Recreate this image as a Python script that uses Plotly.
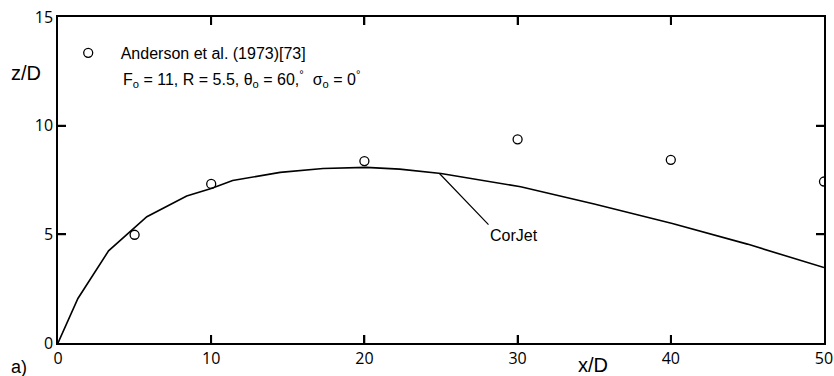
import plotly.graph_objects as go

# Experimental data: Anderson et al. (1973)
exp_x = [5, 10, 20, 30, 40, 50]
exp_z = [4.98, 7.32, 8.37, 9.37, 8.43, 7.43]

# CorJet prediction
cj_x = [0, 1.3, 3.3, 5.8, 8.4, 10.0, 11.4, 14.5, 17.3, 20.1, 22.3, 25.0, 30.2, 35.0, 40.1, 45.0, 50.0]
cj_z = [0, 2.05, 4.24, 5.81, 6.76, 7.11, 7.48, 7.85, 8.03, 8.08, 8.0, 7.8, 7.19, 6.4, 5.5, 4.55, 3.47]

x_ticks = [0, 10, 20, 30, 40, 50]
y_ticks = [0, 5, 10, 15]
x_range = [0, 50]
y_range = [0, 15]

FONT = "Liberation Sans"
TXT = dict(family=FONT, size=16, color="black")

W, H = 834, 376
M = dict(l=58, r=10, t=17, b=33)
TICK_PX = 8
x_tick_len = TICK_PX * (x_range[1] - x_range[0]) / (W - M["l"] - M["r"])
y_tick_len = TICK_PX * (y_range[1] - y_range[0]) / (H - M["t"] - M["b"])

fig = go.Figure()
fig.add_trace(go.Scatter(x=cj_x, y=cj_z, mode="lines",
                         line=dict(color="black", width=1.6),
                         showlegend=False, name="CorJet"))
fig.add_trace(go.Scatter(x=exp_x, y=exp_z, mode="markers",
                         marker=dict(symbol="circle-open", size=9,
                                     color="black", line=dict(width=1.3)),
                         name="Anderson et al. (1973)[73]"))

# inside tick marks on all four sides (interior ticks only, as in the reference)
inner_x = x_ticks[1:-1]
inner_y = y_ticks[1:-1]
tick_marker = dict(size=1, color="rgba(0,0,0,0)")
for yv, up in ((y_range[0], True), (y_range[1], False)):
    fig.add_trace(go.Scatter(
        x=inner_x, y=[yv] * len(inner_x), mode="markers", marker=tick_marker,
        showlegend=False, hoverinfo="skip", cliponaxis=False,
        error_y=dict(type="data", symmetric=False,
                     array=[y_tick_len if up else 0] * len(inner_x),
                     arrayminus=[0 if up else y_tick_len] * len(inner_x),
                     width=0, thickness=1.8, color="black")))
for xv, right in ((x_range[0], True), (x_range[1], False)):
    fig.add_trace(go.Scatter(
        x=[xv] * len(inner_y), y=inner_y, mode="markers", marker=tick_marker,
        showlegend=False, hoverinfo="skip", cliponaxis=False,
        error_x=dict(type="data", symmetric=False,
                     array=[x_tick_len if right else 0] * len(inner_y),
                     arrayminus=[0 if right else x_tick_len] * len(inner_y),
                     width=0, thickness=1.8, color="black")))

axis_style = dict(ticks="inside", ticklen=8, tickwidth=2, tickcolor="black",
                  showline=True, linecolor="black", linewidth=1.5, mirror="ticks",
                  gridcolor="rgba(0,0,0,0)", zerolinecolor="rgba(0,0,0,0)",
                  tickfont=dict(size=16, color="black"))

fig.update_layout(
    template="none",
    width=W, height=H,
    margin=M,
    xaxis=dict(range=x_range, tickvals=x_ticks, **axis_style),
    yaxis=dict(range=y_range, tickvals=y_ticks, **axis_style),
    showlegend=True,
    legend=dict(x=-0.003, y=0.942, xanchor="left", yanchor="top",
                itemwidth=55, bgcolor="rgba(0,0,0,0)", borderwidth=0, font=TXT),
    annotations=[
        dict(x=24.9, y=7.8, xref="x", yref="y", ax=28.1, ay=5.45,
             axref="x", ayref="y", text="CorJet", showarrow=True, arrowhead=0,
             arrowwidth=1.2, arrowcolor="black", xanchor="left", yanchor="top",
             font=TXT),
        dict(x=(120.7 - 58) / 766, y=1 - (79 - 17) / 326, xref="paper", yref="paper",
             text="F<sub>o</sub> = 11, R = 5.5, θ<sub>o</sub> = 60,<sup>°</sup>  σ<sub>o</sub> = 0<sup>°</sup>",
             showarrow=False, xanchor="left", yanchor="middle", font=TXT),
        dict(x=(593 - 58) / 766, y=-(365 - 343) / 326, xref="paper", yref="paper",
             text="x/D", showarrow=False, xanchor="center", yanchor="middle",
             font=dict(family=FONT, size=20, color="black")),
        dict(x=(26 - 58) / 766, y=1 - (73 - 17) / 326, xref="paper", yref="paper",
             text="z/D", showarrow=False, xanchor="center", yanchor="middle",
             font=dict(family=FONT, size=20, color="black")),
        dict(x=(19 - 58) / 766, y=-(367 - 343) / 326, xref="paper", yref="paper",
             text="a)", showarrow=False, xanchor="center", yanchor="middle",
             font=dict(family=FONT, size=18, color="black")),
    ],
)

fig.write_html("out.html")
